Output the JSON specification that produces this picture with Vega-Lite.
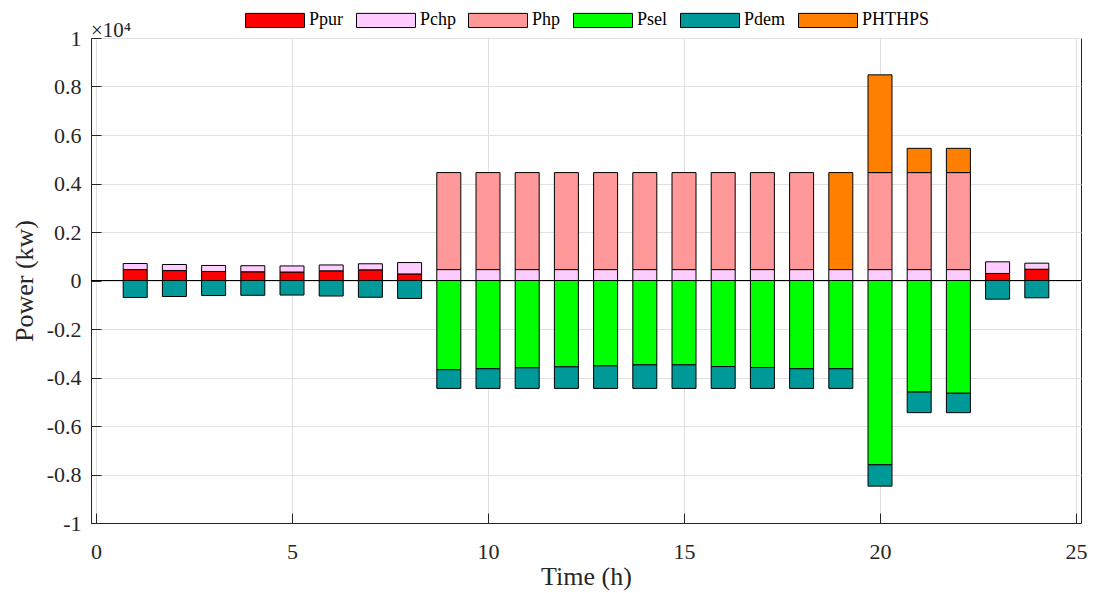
{
  "$schema": "https://vega.github.io/schema/vega-lite/v6.json",
  "width": 990,
  "height": 485,
  "autosize": {"type": "none"},
  "padding": {"left": 91, "top": 38, "right": 12, "bottom": 70},
  "background": "white",
  "config": {
    "font": "Liberation Serif",
    "view": {"stroke": "#262626", "strokeWidth": 1},
    "axis": {
      "labelFont": "Liberation Serif", "titleFont": "Liberation Serif",
      "labelFontSize": 22, "titleFontSize": 26, "titleFontWeight": "normal",
      "labelColor": "#262626", "titleColor": "#262626",
      "gridColor": "#e0e0e0", "gridOpacity": 1, "domainColor": "#262626", "tickColor": "#262626"
    }
  },
  "title": {"text": "×10⁴", "anchor": "start", "frame": "group", "fontSize": 21, "fontWeight": "normal", "font": "Liberation Serif", "offset": 4, "dy": 55, "color": "#262626"},
  "data": {"values": [
    {"hour": 1, "series": "Ppur", "power": 450}, {"hour": 1, "series": "Pchp", "power": 250}, {"hour": 1, "series": "Pdem", "power": -700},
    {"hour": 2, "series": "Ppur", "power": 410}, {"hour": 2, "series": "Pchp", "power": 250}, {"hour": 2, "series": "Pdem", "power": -660},
    {"hour": 3, "series": "Ppur", "power": 370}, {"hour": 3, "series": "Pchp", "power": 250}, {"hour": 3, "series": "Pdem", "power": -620},
    {"hour": 4, "series": "Ppur", "power": 360}, {"hour": 4, "series": "Pchp", "power": 250}, {"hour": 4, "series": "Pdem", "power": -610},
    {"hour": 5, "series": "Ppur", "power": 350}, {"hour": 5, "series": "Pchp", "power": 250}, {"hour": 5, "series": "Pdem", "power": -600},
    {"hour": 6, "series": "Ppur", "power": 400}, {"hour": 6, "series": "Pchp", "power": 240}, {"hour": 6, "series": "Pdem", "power": -640},
    {"hour": 7, "series": "Ppur", "power": 440}, {"hour": 7, "series": "Pchp", "power": 250}, {"hour": 7, "series": "Pdem", "power": -690},
    {"hour": 8, "series": "Ppur", "power": 270}, {"hour": 8, "series": "Pchp", "power": 470}, {"hour": 8, "series": "Pdem", "power": -740},
    {"hour": 9, "series": "Pchp", "power": 450}, {"hour": 9, "series": "Php", "power": 4000}, {"hour": 9, "series": "Psel", "power": -3680}, {"hour": 9, "series": "Pdem", "power": -770},
    {"hour": 10, "series": "Pchp", "power": 450}, {"hour": 10, "series": "Php", "power": 4000}, {"hour": 10, "series": "Psel", "power": -3640}, {"hour": 10, "series": "Pdem", "power": -810},
    {"hour": 11, "series": "Pchp", "power": 450}, {"hour": 11, "series": "Php", "power": 4000}, {"hour": 11, "series": "Psel", "power": -3600}, {"hour": 11, "series": "Pdem", "power": -850},
    {"hour": 12, "series": "Pchp", "power": 450}, {"hour": 12, "series": "Php", "power": 4000}, {"hour": 12, "series": "Psel", "power": -3560}, {"hour": 12, "series": "Pdem", "power": -890},
    {"hour": 13, "series": "Pchp", "power": 450}, {"hour": 13, "series": "Php", "power": 4000}, {"hour": 13, "series": "Psel", "power": -3520}, {"hour": 13, "series": "Pdem", "power": -930},
    {"hour": 14, "series": "Pchp", "power": 450}, {"hour": 14, "series": "Php", "power": 4000}, {"hour": 14, "series": "Psel", "power": -3480}, {"hour": 14, "series": "Pdem", "power": -970},
    {"hour": 15, "series": "Pchp", "power": 450}, {"hour": 15, "series": "Php", "power": 4000}, {"hour": 15, "series": "Psel", "power": -3480}, {"hour": 15, "series": "Pdem", "power": -970},
    {"hour": 16, "series": "Pchp", "power": 450}, {"hour": 16, "series": "Php", "power": 4000}, {"hour": 16, "series": "Psel", "power": -3550}, {"hour": 16, "series": "Pdem", "power": -900},
    {"hour": 17, "series": "Pchp", "power": 450}, {"hour": 17, "series": "Php", "power": 4000}, {"hour": 17, "series": "Psel", "power": -3590}, {"hour": 17, "series": "Pdem", "power": -860},
    {"hour": 18, "series": "Pchp", "power": 450}, {"hour": 18, "series": "Php", "power": 4000}, {"hour": 18, "series": "Psel", "power": -3640}, {"hour": 18, "series": "Pdem", "power": -810},
    {"hour": 19, "series": "Pchp", "power": 450}, {"hour": 19, "series": "PHTHPS", "power": 4000}, {"hour": 19, "series": "Psel", "power": -3640}, {"hour": 19, "series": "Pdem", "power": -810},
    {"hour": 20, "series": "Pchp", "power": 450}, {"hour": 20, "series": "Php", "power": 4000}, {"hour": 20, "series": "PHTHPS", "power": 4030}, {"hour": 20, "series": "Psel", "power": -7600}, {"hour": 20, "series": "Pdem", "power": -880},
    {"hour": 21, "series": "Pchp", "power": 450}, {"hour": 21, "series": "Php", "power": 4000}, {"hour": 21, "series": "PHTHPS", "power": 1000}, {"hour": 21, "series": "Psel", "power": -4600}, {"hour": 21, "series": "Pdem", "power": -850},
    {"hour": 22, "series": "Pchp", "power": 450}, {"hour": 22, "series": "Php", "power": 4000}, {"hour": 22, "series": "PHTHPS", "power": 1000}, {"hour": 22, "series": "Psel", "power": -4650}, {"hour": 22, "series": "Pdem", "power": -800},
    {"hour": 23, "series": "Ppur", "power": 290}, {"hour": 23, "series": "Pchp", "power": 480}, {"hour": 23, "series": "Pdem", "power": -770},
    {"hour": 24, "series": "Ppur", "power": 465}, {"hour": 24, "series": "Pchp", "power": 250}, {"hour": 24, "series": "Pdem", "power": -715}
  ]},
  "transform": [
    {"calculate": "indexof(['Ppur','Pchp','Php','Psel','Pdem','PHTHPS'], datum.series)", "as": "ord"}
  ],
  "layer": [
    {
      "mark": {"type": "bar", "width": 24, "stroke": "black", "strokeWidth": 1},
      "encoding": {
        "x": {
          "field": "hour", "type": "quantitative",
          "scale": {"domain": [0, 25], "nice": false},
          "axis": {"values": [0, 5, 10, 15, 20, 25], "title": "Time (h)", "labelFont": "Liberation Serif", "labelFontSize": 22, "tickSize": -10, "labelPadding": 28, "titlePadding": 1, "grid": true}
        },
        "y": {
          "field": "power", "type": "quantitative", "stack": "zero",
          "scale": {"domain": [-10000, 10000], "nice": false},
          "axis": {
            "values": [-10000, -8000, -6000, -4000, -2000, 0, 2000, 4000, 6000, 8000, 10000],
            "labelExpr": "'' + datum.value / 10000",
            "labelFont": "Liberation Serif", "labelFontSize": 22,
            "title": "Power (kw)", "tickSize": -10, "labelPadding": 20, "titlePadding": 9, "grid": true
          }
        },
        "color": {
          "field": "series", "type": "nominal",
          "scale": {
            "domain": ["Ppur", "Pchp", "Php", "Psel", "Pdem", "PHTHPS"],
            "range": ["#ff0000", "#ffccff", "#ff9999", "#00ff00", "#009999", "#ff8000"]
          },
          "legend": {
            "orient": "none", "legendX": 154, "legendY": -48, "direction": "horizontal",
            "title": null,
            "symbolType": "M-1,-0.24H1V0.24H-1Z", "symbolSize": 3481,
            "symbolStrokeColor": "black", "symbolStrokeWidth": 1, "symbolOpacity": 1,
            "labelFont": "Liberation Serif", "labelFontSize": 18, "labelColor": "black",
            "labelOffset": 4, "columnPadding": 10
          }
        },
        "order": {"field": "ord", "type": "quantitative"}
      }
    },
    {
      "mark": {"type": "rule", "color": "black", "strokeWidth": 1},
      "encoding": {"y": {"datum": 0}}
    }
  ]
}
